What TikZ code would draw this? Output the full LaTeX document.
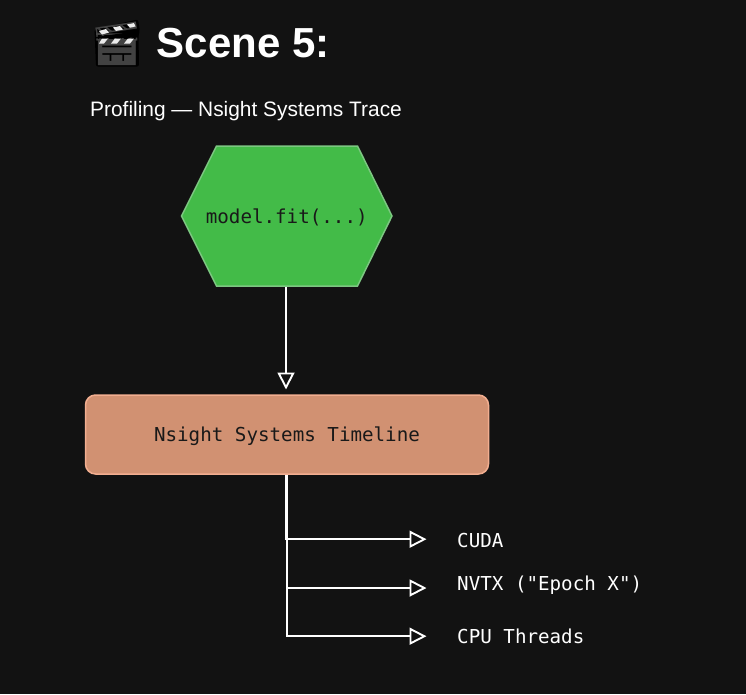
\documentclass[tikz,border=0pt]{standalone}
\usepackage{fontspec}
\setmainfont{Liberation Sans}
\setmonofont{DejaVu Sans Mono}
\newfontfamily\emojifont{Noto Emoji}
\usetikzlibrary{arrows.meta}
\definecolor{bgc}{HTML}{121212}
\definecolor{hexfill}{HTML}{43BB48}
\definecolor{hexline}{HTML}{7CC781}
\definecolor{boxfill}{HTML}{D19172}
\definecolor{boxline}{HTML}{F2AE90}
\definecolor{clapgrey}{HTML}{424242}
\tikzset{
  x=1pt,y=-1pt,
  conn/.style={draw=white,line width=1.9pt,-{Triangle[open,length=17pt,width=17pt,line width=1.9pt,fill=bgc]}},
  trunk/.style={draw=white,line width=1.7pt},
  trunktop/.style={draw=white,line width=2.3pt},
  label/.style={text=white,font=\ttfamily\fontsize{19.2}{22}\selectfont,anchor=west,inner sep=0pt},
  innerlabel/.style={text=black!90,font=\ttfamily\fontsize{19.2}{22}\selectfont,inner sep=0pt},
  clapstripe/.style={fill=white!92!black},
}
\begin{document}
\begin{tikzpicture}
\fill[bgc] (0,0) rectangle (746,694);
\useasboundingbox (0,0) rectangle (746,694);
% clapperboard backing under the emoji glyph
\fill[black,rounded corners=2pt] (94.5,29) -- (138,19.5) -- (140,31) -- (138.5,34) -- (139,66.5) -- (96,66.5) -- cycle;
\node[text=clapgrey,inner sep=0pt,anchor=center,font=\emojifont\fontsize{43}{43}\selectfont] (clap) at (116.5,44) {🎬};
\fill[black] (96,37) -- (138,31) -- (138,37.5) -- (96,38.5) -- cycle;
\fill[clapstripe] (99,31) -- (106,29) -- (109,32.5) -- (102,34.5) -- cycle;
\fill[clapstripe] (113,27.5) -- (120,26) -- (123,29.5) -- (116,31) -- cycle;
\fill[clapstripe] (127,24.5) -- (134,23) -- (135.5,26.5) -- (130,27.8) -- cycle;
\fill[clapstripe] (102,38.5) -- (108,38.5) -- (104,43.5) -- (99,43.5) -- cycle;
\fill[clapstripe] (115,38.5) -- (121,38.5) -- (117,43.5) -- (111,43.5) -- cycle;
\fill[clapstripe] (128,38.5) -- (134,38.5) -- (130,43.5) -- (124,43.5) -- cycle;
\node[text=white,inner sep=0pt,anchor=base west,font=\bfseries\fontsize{42}{44}\selectfont] (title) at (156.5,57) {Scene 5:};
\node[text=white,inner sep=0pt,anchor=base west,font=\fontsize{20.9}{24}\selectfont] (sub) at (90,116) {Profiling — Nsight Systems Trace};
\draw[fill=hexfill,draw=hexline,line width=1.5pt,line join=miter]
  (216.5,146) -- (357.5,146) -- (392,216) -- (357.5,286) -- (216.5,286) -- (181.5,216) -- cycle;
\node[innerlabel,minimum width=210pt,minimum height=140pt] (fit) at (286.75,217) {model.fit(...)};
\node[innerlabel,draw=boxline,fill=boxfill,line width=1.5pt,rounded corners=10pt,minimum width=403pt,minimum height=79pt] (timeline) at (287,434.5) {};
\node[innerlabel] (timelinetext) at (287,436) {Nsight Systems Timeline};
\coordinate (fitout) at (286,286);
\draw[conn] (fit.south -| fitout) -- (286,389.5);
\node[label] (cuda) at (457,540.2) {CUDA};
\node[label] (nvtx) at (457,585.5) {NVTX ("Epoch X")};
\node[label] (cpu) at (457,636.2) {CPU Threads};
\coordinate (cudaend) at (426.5,539.2);
\coordinate (nvtxend) at (426.5,588);
\coordinate (cpuend) at (426.5,636.2);
\draw[trunktop] (timeline.south -| 286.5,0) -- (286.5,539.5);
\draw[trunk] (286.7,539.5) -- (286.7,636.5);
\draw[conn] (286.5,539.2) -- (cudaend);
\draw[conn] (286.5,588) -- (nvtxend);
\draw[conn] (286.5,636.2) -- (cpuend);
\end{tikzpicture}
\end{document}
